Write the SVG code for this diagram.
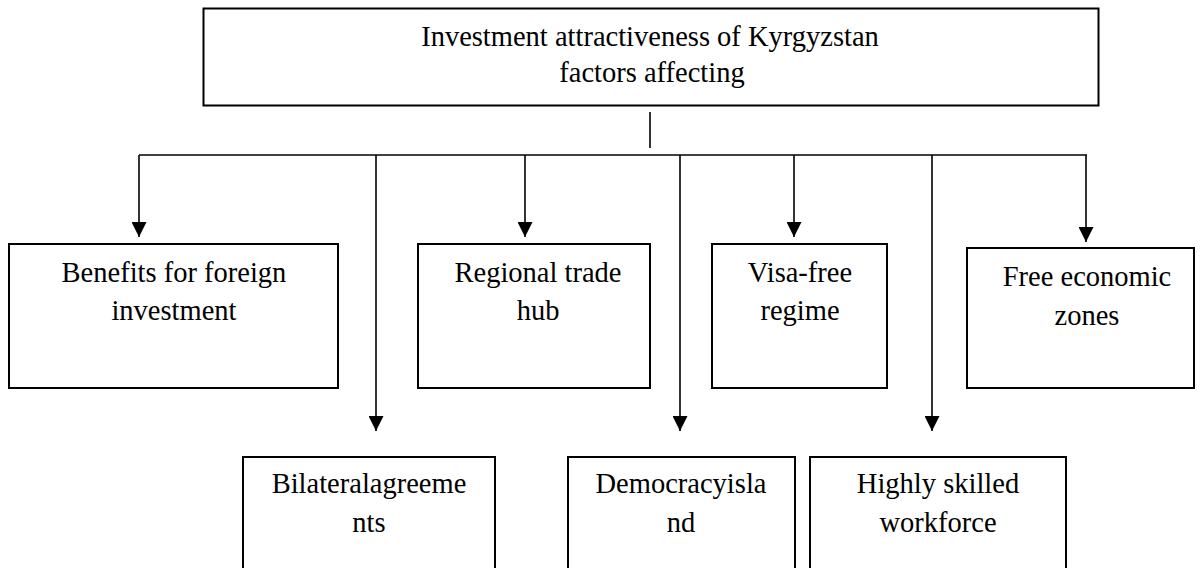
<svg xmlns="http://www.w3.org/2000/svg" width="1201" height="568" viewBox="0 0 1201 568">
<style>
.box{fill:#fff;stroke:#000;stroke-width:2}
.ln{fill:none;stroke:#000;stroke-width:1.6}
.t{font-family:"Liberation Serif","Times New Roman",serif;font-size:28.5px;fill:#000;text-anchor:middle}
</style>
<defs>
<marker id="ah" viewBox="0 0 15 15" markerWidth="15" markerHeight="15" refX="15" refY="7.5" orient="auto" markerUnits="userSpaceOnUse">
<path d="M0,0 L15,7.5 L0,15 z" fill="#000"/>
</marker>
</defs>
<rect width="1201" height="568" fill="#fff"/>
<g id="title">
<rect class="box" x="203.5" y="8.5" width="895" height="97"/>
<text class="t" x="650" y="46">Investment attractiveness of Kyrgyzstan</text>
<text class="t" x="652" y="82">factors affecting</text>
</g>
<g id="connectors">
<line class="ln" x1="650" y1="112" x2="650" y2="148"/>
<line class="ln" x1="139" y1="155" x2="1087" y2="155"/>
<line class="ln" x1="139" y1="155" x2="139" y2="237" marker-end="url(#ah)"/>
<line class="ln" x1="376" y1="155" x2="376" y2="431" marker-end="url(#ah)"/>
<line class="ln" x1="525" y1="155" x2="525" y2="237" marker-end="url(#ah)"/>
<line class="ln" x1="680" y1="155" x2="680" y2="431" marker-end="url(#ah)"/>
<line class="ln" x1="794" y1="155" x2="794" y2="237" marker-end="url(#ah)"/>
<line class="ln" x1="932" y1="155" x2="932" y2="431" marker-end="url(#ah)"/>
<line class="ln" x1="1086" y1="155" x2="1086" y2="242" marker-end="url(#ah)"/>
</g>
<g id="benefits">
<rect class="box" x="9" y="244" width="329" height="144"/>
<text class="t" x="174" y="282">Benefits for foreign</text>
<text class="t" x="174" y="320">investment</text>
</g>
<g id="regional">
<rect class="box" x="418" y="244" width="232" height="144"/>
<text class="t" x="538" y="282">Regional trade</text>
<text class="t" x="538" y="320">hub</text>
</g>
<g id="visa">
<rect class="box" x="712" y="244" width="175" height="144"/>
<text class="t" x="800" y="282">Visa-free</text>
<text class="t" x="800" y="320">regime</text>
</g>
<g id="free">
<rect class="box" x="967" y="248" width="227" height="140"/>
<text class="t" x="1087" y="286">Free economic</text>
<text class="t" x="1087" y="325">zones</text>
</g>
<g id="bilateral">
<rect class="box" x="243" y="457" width="252" height="144"/>
<text class="t" x="369" y="493">Bilateralagreeme</text>
<text class="t" x="369" y="532">nts</text>
</g>
<g id="democracy">
<rect class="box" x="568" y="457" width="227" height="144"/>
<text class="t" x="681" y="493">Democracyisla</text>
<text class="t" x="681" y="532">nd</text>
</g>
<g id="workforce">
<rect class="box" x="810" y="457" width="256" height="144"/>
<text class="t" x="938" y="493">Highly skilled</text>
<text class="t" x="938" y="532">workforce</text>
</g>
</svg>
